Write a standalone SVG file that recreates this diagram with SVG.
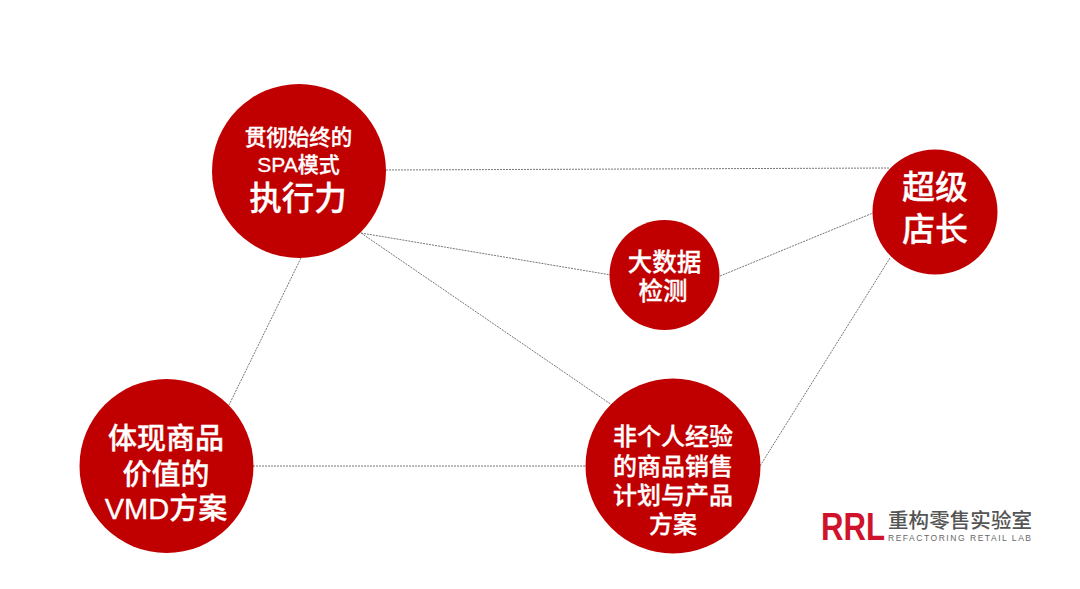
<svg xmlns="http://www.w3.org/2000/svg" width="1080" height="589" viewBox="0 0 1080 589">
<style>
.n{fill:#c00000}
.t{fill:#fff;stroke:#fff;stroke-width:.3;font-family:"Noto Sans CJK SC","Liberation Sans",sans-serif;font-weight:500;text-anchor:middle}
.s{font-family:"Liberation Sans","Noto Sans CJK SC",sans-serif}
.c line{stroke:#777;stroke-width:1;stroke-dasharray:2 1;fill:none}
</style>
<rect width="1080" height="589" fill="#fff"/>
<g id="connectors" class="c">
<line x1="386" y1="170" x2="889" y2="168"/>
<line x1="361" y1="233" x2="611" y2="275"/>
<line x1="361" y1="233" x2="612" y2="405"/>
<line x1="301" y1="258" x2="229" y2="405"/>
<line x1="720" y1="276" x2="873" y2="213"/>
<line x1="890" y1="258" x2="760" y2="466"/>
<line x1="253" y1="466" x2="587" y2="466"/>
</g>
<g id="n1"><circle class="n" cx="299" cy="171" r="87"/>
<text class="t" x="298.500" y="145" font-size="21.500">贯彻始终的</text>
<text class="t s" x="298.500" y="172" font-size="21">SPA模式</text>
<text class="t" x="298" y="210" font-size="32.500">执行力</text></g>
<g id="n2"><circle class="n" cx="935" cy="212" r="62.500"/>
<text class="t" x="935" y="199" font-size="33">超级</text>
<text class="t" x="935" y="241" font-size="33">店长</text></g>
<g id="n3"><circle class="n" cx="664.500" cy="275" r="55"/>
<text class="t" x="664.500" y="271" font-size="24.500">大数据</text>
<text class="t" x="663" y="300" font-size="24.500">检测</text></g>
<g id="n4"><circle class="n" cx="166.500" cy="466" r="87"/>
<text class="t" x="166" y="449" font-size="29">体现商品</text>
<text class="t" x="166" y="485" font-size="29">价值的</text>
<text class="t s" x="166" y="519" font-size="29">VMD方案</text></g>
<g id="n5"><circle class="n" cx="673" cy="466" r="87.500"/>
<text class="t" x="673" y="445" font-size="24">非个人经验</text>
<text class="t" x="673" y="475" font-size="24">的商品销售</text>
<text class="t" x="673" y="504" font-size="24">计划与产品</text>
<text class="t" x="673" y="533" font-size="24">方案</text></g>
<g id="logo">
<text x="821" y="540" font-family="Liberation Sans,sans-serif" font-weight="700" font-size="38" fill="#d0132c" textLength="64" lengthAdjust="spacingAndGlyphs">RRL</text>
<text x="888" y="528" font-family="Noto Sans CJK SC,sans-serif" font-weight="500" font-size="20.500" fill="#555" textLength="144">重构零售实验室</text>
<text x="888" y="541" font-family="Liberation Sans,sans-serif" font-size="8.500" fill="#666" textLength="143">REFACTORING RETAIL LAB</text>
</g>
</svg>
